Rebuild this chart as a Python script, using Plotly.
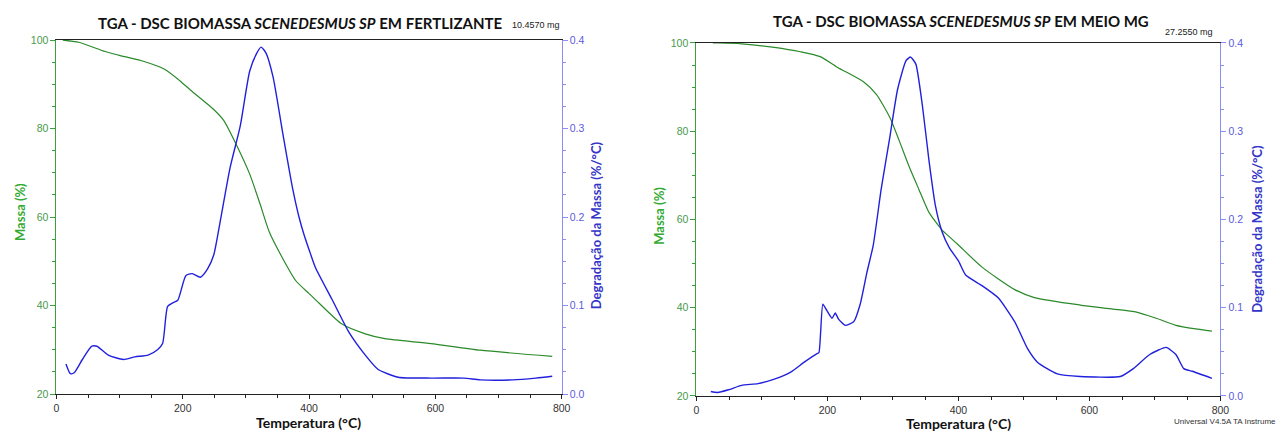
import plotly.graph_objects as go

# ---- Left: Fertilizante ----
tga1_T = [10, 35, 77, 98, 140, 171, 192, 212, 249, 265, 285, 306, 322, 337, 358, 379, 400, 416, 452, 489, 520, 593, 671, 785]
tga1_m = [100, 99.5, 97.4, 96.6, 95.1, 93.4, 91.2, 88.7, 84.3, 81.8, 76.3, 69.7, 63.1, 56.6, 50.7, 45.6, 42.7, 40.5, 35.8, 33.6, 32.5, 31.4, 29.9, 28.5]
dtg1_T = [15, 22, 28, 41, 56, 64, 82, 106, 124, 145, 160, 168, 176, 184, 192, 205, 215, 228, 239, 249, 259, 275, 291, 306, 317, 324, 332, 343, 358, 374, 384, 392, 400, 410, 437, 463, 489, 509, 541, 593, 645, 671, 723, 759, 785]
dtg1_d = [.034, .023, .024, .039, .054, .054, .044, .039, .042, .044, .050, .057, .099, .103, .106, .134, .136, .132, .141, .157,
          .194, .256, .303, .365, .385, .392, .385, .358, .296, .232, .200, .180, .163, .143, .106, .070, .044, .028, .019, .018,
          .018, .016, .016, .018, .020]

# ---- Right: Meio MG ----
tga2_T = [25, 34, 69, 119, 159, 189, 215, 255, 275, 295, 310, 325, 340, 355, 375, 386, 400, 436, 486, 516, 586, 636, 672, 702, 732, 762, 787]
tga2_m = [100, 100, 99.8, 99.0, 98.0, 96.9, 94.5, 91.2, 88.3, 83.2, 77.7, 71.9, 66.7, 61.6, 57.6, 56.1, 54.2, 49.2, 44.1, 42.3, 40.6, 39.7, 39.0, 37.6, 36.0, 35.2, 34.7]
dtg2_T = [22, 32, 49, 69, 94, 119, 144, 164, 184, 187, 193, 199, 207, 212, 217, 227, 240, 250, 260, 270, 282, 295, 307, 320, 327, 335,
          345, 355, 365, 375, 386, 400, 411, 436, 461, 486, 506, 521, 551, 586, 647, 667, 692, 717, 732, 744, 757, 787]
dtg2_d = [.005, .004, .007, .012, .014, .019, .027, .038, .048, .049, .104, .097, .088, .094, .087, .080, .084, .104, .139, .171,
          .234, .292, .347, .380, .384, .376, .329, .267, .215, .186, .168, .153, .137, .125, .111, .084, .053, .038, .025, .022,
          .022, .031, .047, .055, .047, .031, .028, .020]

titles = ["TGA - DSC BIOMASSA <i>SCENEDESMUS SP</i> EM FERTLIZANTE",
          "TGA - DSC BIOMASSA <i>SCENEDESMUS SP</i> EM MEIO MG"]
masses = ["10.4570 mg", "27.2550 mg"]
x_ticks = [0, 200, 400, 600, 800]

GREEN = "#2a8a2a"
BLUE = "#2020dd"
GAX = "#3aa03a"
BAX = "#8c8cf5"
W, H = 1276, 436

fig = go.Figure()
fig.add_trace(go.Scatter(x=tga1_T, y=tga1_m, xaxis="x", yaxis="y", mode="lines",
                         line=dict(color=GREEN, width=1.2, shape="spline", smoothing=0.6)))
fig.add_trace(go.Scatter(x=dtg1_T, y=dtg1_d, xaxis="x", yaxis="y2", mode="lines",
                         line=dict(color=BLUE, width=1.4, shape="spline", smoothing=0.6)))
fig.add_trace(go.Scatter(x=tga2_T, y=tga2_m, xaxis="x2", yaxis="y3", mode="lines",
                         line=dict(color=GREEN, width=1.2, shape="spline", smoothing=0.6)))
fig.add_trace(go.Scatter(x=dtg2_T, y=dtg2_d, xaxis="x2", yaxis="y4", mode="lines",
                         line=dict(color=BLUE, width=1.4, shape="spline", smoothing=0.5)))

tickfont = dict(family="Liberation Sans, Arial", size=10.5)

def xax(domain, anchor):
    return dict(domain=domain, anchor=anchor, range=[0, 800], tickvals=x_ticks,
                showline=True, linecolor="#222", linewidth=1, mirror=True,
                ticks="outside", ticklen=4, tickcolor="#222", showgrid=False, zeroline=False,
                minor=dict(dtick=50, ticks="outside", ticklen=3, tickcolor="#222"),
                tickfont=dict(tickfont, color="#333"), fixedrange=True)

def ymass(domain, anchor):
    return dict(domain=domain, anchor=anchor, range=[20, 100], dtick=20,
                showline=True, linecolor=GAX, linewidth=1, ticks="outside", ticklen=5,
                tickcolor=GAX, showgrid=False, zeroline=False,
                minor=dict(dtick=5, ticks="outside", ticklen=3, tickcolor=GAX),
                tickfont=dict(tickfont, color="#4a9a4a"))

def yderiv(anchor, over):
    return dict(overlaying=over, anchor=anchor, side="right", range=[0, 0.4], dtick=0.1,
                tickformat=".1f", showline=True, linecolor=BAX, linewidth=1, ticks="outside",
                ticklen=5, tickcolor=BAX, showgrid=False, zeroline=False,
                minor=dict(dtick=0.025, ticks="outside", ticklen=3, tickcolor=BAX),
                tickfont=dict(tickfont, color="#5a5ae0"))

fig.update_layout(
    width=W, height=H, margin=dict(l=0, r=0, t=0, b=0),
    paper_bgcolor="white", plot_bgcolor="white", showlegend=False,
    xaxis=xax([54 / W, 564 / W], "y"),
    yaxis=ymass([1 - 399 / H, 1 - 35 / H], "x"),
    yaxis2=yderiv("x", "y"),
    xaxis2=xax([700 / W, 1229 / W], "y3"),
    yaxis3=ymass([1 - 401 / H, 1 - 38 / H], "x2"),
    yaxis4=yderiv("x2", "y3"),
)

def ann(text, x, y, size, color, bold=False, angle=0, family="Lato", xanchor="center"):
    if bold:
        text = "<b>" + text + "</b>"
    fig.add_annotation(text=text, x=x / W, y=1 - y / H, xref="paper", yref="paper",
                       showarrow=False, textangle=angle, xanchor=xanchor, yanchor="middle",
                       borderpad=0, font=dict(family=family, size=size, color=color))

ann(titles[0], 300, 17, 15, "#111", bold=True)
ann(titles[1], 967, 15, 15, "#111", bold=True)
ann(masses[0], 538, 20, 9, "#222", family="Liberation Sans")
ann(masses[1], 1197, 27, 9, "#222", family="Liberation Sans")
ann("Massa (%)", 17, 212, 13, "#33aa33", bold=True, angle=-90)
ann("Massa (%)", 662, 216, 13, "#33aa33", bold=True, angle=-90)
ann("Degradação da Massa (%/°C)", 598, 225, 13, "#3434c8", bold=True, angle=-90)
ann("Degradação da Massa (%/°C)", 1266, 229, 13, "#3434c8", bold=True, angle=-90)
ann("Temperatura (°C)", 308, 428, 14, "#111", bold=True)
ann("Temperatura (°C)", 965, 429, 14, "#111", bold=True)
ann("Universal V4.5A TA Instrume", 1181, 427, 8, "#333", family="Liberation Sans", xanchor="left")

fig.write_html("out.html", config={"displayModeBar": False},
               post_script="document.body.style.margin='0';document.body.style.padding='0';")
